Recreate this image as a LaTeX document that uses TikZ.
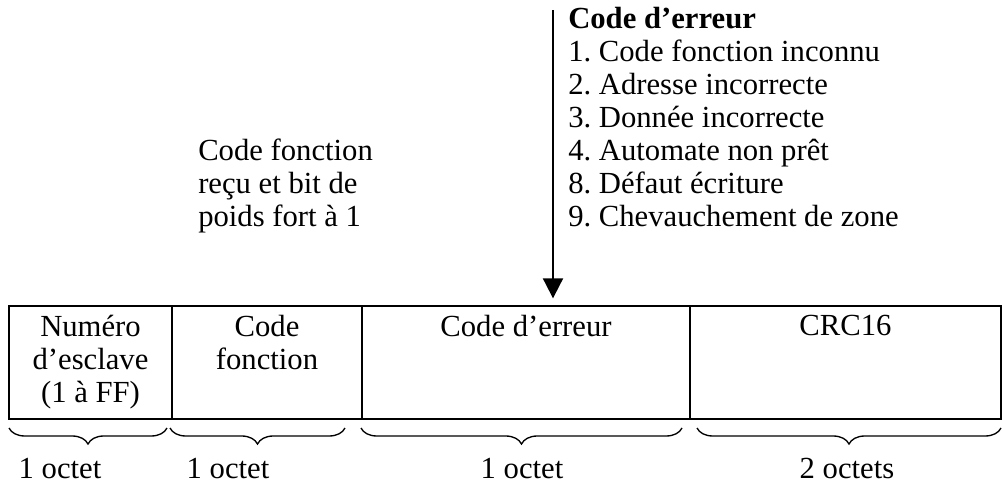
\documentclass[tikz,border=0pt]{standalone}
\usepackage{fontspec}
\setmainfont{Liberation Serif}
\usepackage{tikz}
\usetikzlibrary{arrows.meta,decorations.pathreplacing}
\frenchspacing
\newcommand{\unite}{0.75pt}
\newcommand{\trhaut}{305}
\newcommand{\trchamp}[3]{\node[champ, minimum width=#3*\unite, anchor=north west] (#1) at (#2,\trhaut) {};}
\newcommand{\tracc}[2]{\draw[acc] (#1,428) -- (#2,428);}
\tikzset{
  txt/.style={inner sep=0pt, font=\fontsize{23}{24.75}\selectfont},
  champ/.style={draw, line width=1.5pt, inner sep=0pt, minimum height=113*\unite},
  acc/.style={decorate, decoration={brace, mirror, amplitude=12pt}, line width=1pt},
  fleche/.style={line width=1.5pt, -{Triangle[width=15pt,length=15pt]}, shorten >=5pt}
}

\begin{document}
\begin{tikzpicture}[x=\unite,y=-\unite]
    \useasboundingbox (0,0) rectangle (1003,492);

    % codes d'erreur possibles
    \node[txt, align=left, anchor=north west] (codes) at (568,7)
      {\textbf{Code d'erreur}\\1. Code fonction inconnu\\2. Adresse incorrecte\\3. Donnée incorrecte\\4. Automate non prêt\\8. Défaut écriture\\9. Chevauchement de zone};

    \node[txt, align=left, anchor=north west] (remarque) at (198,139)
      {Code fonction\\reçu et bit de\\poids fort à 1};

    % trame de reponse
    \trchamp{esclave}{8}{163}
    \trchamp{fonction}{171}{190}
    \trchamp{erreur}{361}{328}
    \trchamp{crc}{689}{311}

    \node[txt, align=center, anchor=north] (tesclave) at ([yshift=-7.5pt]esclave.north) {Numéro\\d'esclave\\(1 à FF)};
    \node[txt, align=center, anchor=north] (tfonction) at ([yshift=-7.5pt]fonction.north) {Code\\fonction};
    \node[txt, align=center, anchor=north] (terreur) at ([yshift=-7.5pt]erreur.north) {Code d'erreur};
    \node[txt, align=center, anchor=north] (tcrc) at ([yshift=-7.5pt]crc.north) {CRC16};

    \coordinate (haut) at (553,10);
    \draw[fleche] (haut) -- (haut |- erreur.north);

    % accolades et tailles
    \tracc{9}{167}
    \tracc{170}{345}
    \tracc{361}{682}
    \tracc{697}{1001}

    \node[txt, anchor=base] (o1) at (60,478) {1 octet};
    \node[txt, anchor=base] (o2) at (228,478) {1 octet};
    \node[txt, anchor=base] (o3) at (522,478) {1 octet};
    \node[txt, anchor=base] (o4) at (847,478) {2 octets};
\end{tikzpicture}
\end{document}
